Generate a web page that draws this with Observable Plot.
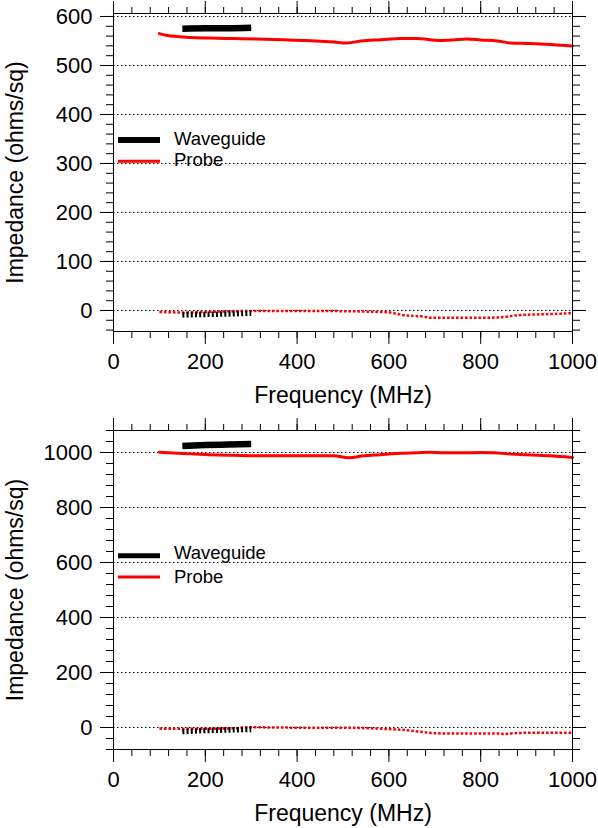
<!DOCTYPE html>
<html>
<head>
<meta charset="utf-8">
<script src="https://cdn.jsdelivr.net/npm/d3@7"></script>
<script src="https://cdn.jsdelivr.net/npm/@observablehq/plot@0.6"></script>
<style>
  body { margin: 0; background: #fff; }
  #wrap { position: relative; width: 598px; height: 828px; font-family: "Liberation Sans", Arial, sans-serif; color: #000; }
  #wrap svg { display: block; }
  .item { position: absolute; left: 118px; height: 0; }
  .swatch { position: absolute; left: 0; width: 42px; transform: translateY(-50%); }
  .lab { position: absolute; left: 56px; font-size: 18.5px; line-height: 18px; transform: translateY(-50%); white-space: nowrap; }
</style>
</head>
<body>
<div id="wrap"></div>
<script>
// ---------- Data ----------
const freqMajor = [0, 200, 400, 600, 800, 1000];
const freqMinor = [0, 40, 80, 120, 160, 200, 240, 280, 320, 360, 400, 440, 480, 520, 560, 600, 640, 680, 720, 760, 800, 840, 880, 920, 960, 1000];

const topYMajor = [0, 100, 200, 300, 400, 500, 600];
const topYMinor = [-40, -20, 0, 20, 40, 60, 80, 100, 120, 140, 160, 180, 200, 220, 240, 260, 280, 300, 320, 340, 360, 380, 400, 420, 440, 460, 480, 500, 520, 540, 560, 580, 600];
const botYMajor = [0, 200, 400, 600, 800, 1000];
const botYMinor = [-80, -40, 0, 40, 80, 120, 160, 200, 240, 280, 320, 360, 400, 440, 480, 520, 560, 600, 640, 680, 720, 760, 800, 840, 880, 920, 960, 1000, 1040, 1080];

// Top panel
const topProbeReFreq = [100, 117, 140, 168, 210, 260, 310, 370, 420, 480, 509, 540, 582, 625, 660, 712, 740, 770, 800, 836, 865, 900, 930, 965, 1000];
const topProbeReVal  = [565, 561, 559, 557, 556, 555, 554, 552.5, 551, 548, 546, 550, 552.5, 555, 555, 551, 552, 554, 552, 550, 546, 545, 544, 542, 540];
const topProbeImFreq = [100, 150, 200, 261, 300, 400, 516, 560, 596, 632, 669, 697, 750, 806, 850, 880, 923, 960, 1000];
const topProbeImVal  = [-3, -4, -3, -1.5, -1, -1, -1.5, -2.5, -3.5, -9.5, -12, -15, -15, -15, -13.5, -9.5, -8, -7, -5.5];
const topWaveReFreq = [150, 200, 250, 300];
const topWaveReVal  = [575, 576, 576, 577];
const topWaveImFreq = [150, 200, 250, 300];
const topWaveImVal  = [-9, -8, -7, -5.5];

// Bottom panel
const botProbeReFreq = [100, 130, 168, 210, 262, 335, 400, 480, 512, 545, 580, 625, 660, 690, 720, 760, 800, 830, 860, 900, 950, 1000];
const botProbeReVal  = [1001, 998, 995, 992, 990, 988, 988, 988, 981, 988, 992, 997, 999, 1001, 999, 999, 1000, 999, 995, 992, 988, 982];
const botProbeImFreq = [100, 150, 200, 260, 298, 350, 450, 516, 590, 625, 662, 698, 734, 800, 843, 850, 880, 923, 1000];
const botProbeImVal  = [-4, -5, -4.5, -3, 1, 0, -1, -1, -5, -8, -14.5, -20.6, -22, -22, -22, -24, -20, -19, -19];
const botWaveReFreq = [150, 200, 250, 300];
const botWaveReVal  = [1024, 1027, 1029, 1031];
const botWaveImFreq = [150, 200, 250, 300];
const botWaveImVal  = [-15, -11, -9, -7];

const seriesNames = ["Waveguide", "Probe"];
const xTitle = "Frequency (MHz)";
const yTitle = "Impedance (ohms/sq)";

// ---------- Drawing ----------
const zipXY = (fs, vs) => fs.map((f, i) => ({f, v: vs[i]}));
const blank = () => "";
const plain = (d) => String(d);

function panel(o) {
  return Plot.plot({
    width: 598,
    height: 414,
    marginLeft: 113,
    marginRight: 26,
    marginTop: o.marginTop,
    marginBottom: o.marginBottom,
    style: {fontSize: "22px", fontFamily: "'Liberation Sans', Arial, sans-serif", color: "#000", background: "#fff", overflow: "visible"},
    x: {domain: [0, 1000]},
    y: {domain: o.yDomain},
    marks: [
      Plot.gridY(o.yMajor, {stroke: "#000", strokeOpacity: 1, strokeWidth: 1, strokeDasharray: "1.5,2.5"}),
      Plot.line(zipXY(o.probeImF, o.probeImV), {x: "f", y: "v", stroke: "red", strokeWidth: 2.5, strokeDasharray: "2.6,1.9", strokeLinecap: "butt", strokeLinejoin: "miter", curve: "monotone-x"}),
      Plot.line(zipXY(o.waveImF, o.waveImV), {x: "f", y: "v", stroke: "#000", strokeWidth: 5.5, strokeDasharray: "2,2.2", strokeLinecap: "butt", strokeLinejoin: "miter", curve: "monotone-x"}),
      Plot.line(zipXY(o.probeReF, o.probeReV), {x: "f", y: "v", stroke: "red", strokeWidth: 3, curve: "monotone-x"}),
      Plot.line(zipXY(o.waveReF, o.waveReV), {x: "f", y: "v", stroke: "#000", strokeWidth: 6.5, strokeLinecap: "butt", curve: "monotone-x"}),
      Plot.frame({stroke: "#000", strokeWidth: 1}),
      Plot.axisY({ticks: o.yMinor, anchor: "left", tickSize: 7, tickFormat: blank, label: null}),
      Plot.axisY({ticks: o.yMajor, anchor: "left", tickSize: 13, tickPadding: 8, tickFormat: plain, label: null}),
      Plot.axisY({ticks: [], anchor: "left", label: yTitle, labelAnchor: "center", labelOffset: 107, labelArrow: false, fontSize: 23}),
      Plot.axisY({ticks: o.yMinor, anchor: "right", tickSize: 7, tickFormat: blank, label: null}),
      Plot.axisY({ticks: o.yMajor, anchor: "right", tickSize: 13, tickFormat: blank, label: null}),
      Plot.axisX({ticks: freqMinor, anchor: "bottom", tickSize: 7, tickFormat: blank, label: null}),
      Plot.axisX({ticks: freqMajor, anchor: "bottom", tickSize: 13, tickPadding: 9, tickFormat: plain, label: null}),
      Plot.axisX({ticks: [], anchor: "bottom", label: xTitle, labelAnchor: "center", labelOffset: 71, labelArrow: false, fontSize: 23}),
      Plot.axisX({ticks: freqMinor, anchor: "top", tickSize: 7, tickFormat: blank, label: null}),
      Plot.axisX({ticks: freqMajor, anchor: "top", tickSize: 13, tickFormat: blank, label: null})
    ]
  });
}

const wrap = document.getElementById("wrap");
wrap.appendChild(panel({
  marginTop: 13, marginBottom: 83, yDomain: [-42.9, 606.1], yMajor: topYMajor, yMinor: topYMinor,
  probeReF: topProbeReFreq, probeReV: topProbeReVal, probeImF: topProbeImFreq, probeImV: topProbeImVal,
  waveReF: topWaveReFreq, waveReV: topWaveReVal, waveImF: topWaveImFreq, waveImV: topWaveImVal
}));
wrap.appendChild(panel({
  marginTop: 16, marginBottom: 79, yDomain: [-80, 1080], yMajor: botYMajor, yMinor: botYMinor,
  probeReF: botProbeReFreq, probeReV: botProbeReVal, probeImF: botProbeImFreq, probeImV: botProbeImVal,
  waveReF: botWaveReFreq, waveReV: botWaveReVal, waveImF: botWaveImFreq, waveImV: botWaveImVal
}));

// Legends (inside each plot area)
function legend(items) {
  for (const it of items) {
    const d = document.createElement("div");
    d.className = "item";
    d.style.top = it.lineY + "px";
    const s = document.createElement("div");
    s.className = "swatch";
    s.style.height = it.h + "px";
    s.style.background = it.color;
    const t = document.createElement("div");
    t.className = "lab";
    t.style.top = (it.textY - it.lineY) + "px";
    t.textContent = it.name;
    d.appendChild(s); d.appendChild(t);
    wrap.appendChild(d);
  }
}
legend([
  {name: seriesNames[0], color: "#000", h: 6, lineY: 140, textY: 139},
  {name: seriesNames[1], color: "red", h: 2.5, lineY: 161, textY: 160},
  {name: seriesNames[0], color: "#000", h: 5.5, lineY: 555.5, textY: 553},
  {name: seriesNames[1], color: "red", h: 3, lineY: 577, textY: 577}
]);
</script>
</body>
</html>
